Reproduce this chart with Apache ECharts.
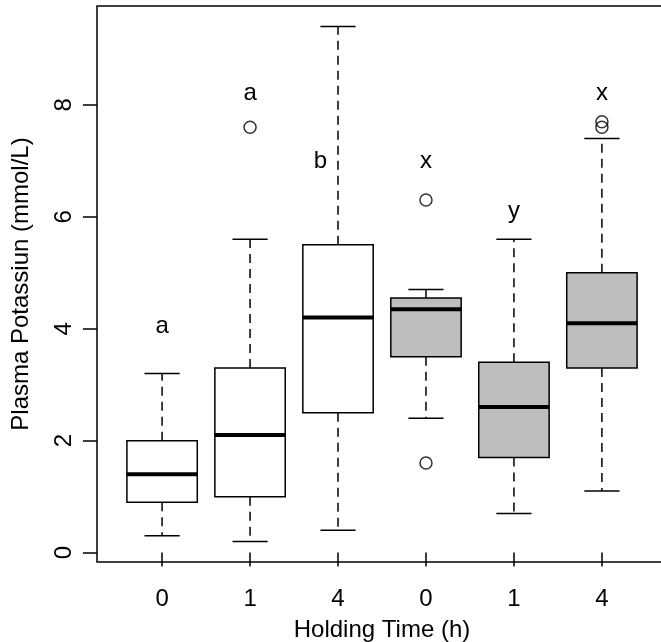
<!DOCTYPE html>
<html>
<head>
<meta charset="utf-8">
<title>Plasma potassium by holding time</title>
<script src="https://cdn.jsdelivr.net/npm/echarts@6/dist/echarts.min.js"></script>
<style>
  html, body { margin: 0; padding: 0; background: #fff; }
  #chart { width: 661px; height: 642px; }
</style>
</head>
<body>
<div id="chart"></div>
<script>
// holding time labels, one per box (two treatment groups of three)
const categories = ['0', '1', '4', '0', '1', '4']
const groups = ['A', 'A', 'A', 'B', 'B', 'B']
const positions = [1, 2, 3, 4, 5, 6]

// box statistics (mmol/L)
const whiskerLow = [0.3, 0.2, 0.4, 2.4, 0.7, 1.1]
const lowerQuartile = [0.9, 1.0, 2.5, 3.5, 1.7, 3.3]
const medians = [1.4, 2.1, 4.2, 4.35, 2.6, 4.1]
const upperQuartile = [2.0, 3.3, 5.5, 4.55, 3.4, 5.0]
const whiskerHigh = [3.2, 5.6, 9.4, 4.7, 5.6, 7.4]

// outliers
const outlierX = [2, 4, 4, 6, 6]
const outlierY = [7.6, 6.3, 1.6, 7.7, 7.6]

// significance letters
const letters = ['a', 'a', 'b', 'x', 'y', 'x']
const letterX = [1, 2, 2.8, 4, 5, 6]
const letterY = [4.05, 8.2, 7.0, 7.0, 6.1, 8.2]

const yTicks = [0, 2, 4, 6, 8]

const font = "'Liberation Sans', Arial, Helvetica, sans-serif"
const fills = { A: '#ffffff', B: '#bebebe' }

const boxData = positions.map((x, i) => [
  x, whiskerLow[i], lowerQuartile[i], medians[i], upperQuartile[i], whiskerHigh[i]
])

function renderBox(params, api) {
  const x = api.value(0)
  const lo = api.coord([x, api.value(1)])
  const q1 = api.coord([x, api.value(2)])
  const md = api.coord([x, api.value(3)])
  const q3 = api.coord([x, api.value(4)])
  const hi = api.coord([x, api.value(5)])
  const bw = api.size([0.8, 0])[0]
  const cx = lo[0]
  const cap = bw / 4
  const solid = { stroke: '#000', lineWidth: 1.5 }
  const dashed = { stroke: '#000', lineWidth: 1.5, lineDash: [9, 6] }
  return {
    type: 'group',
    children: [
      { type: 'line', shape: { x1: cx, y1: q3[1], x2: cx, y2: hi[1] }, style: dashed },
      { type: 'line', shape: { x1: cx, y1: q1[1], x2: cx, y2: lo[1] }, style: dashed },
      { type: 'line', shape: { x1: cx - cap, y1: hi[1], x2: cx + cap, y2: hi[1] }, style: solid },
      { type: 'line', shape: { x1: cx - cap, y1: lo[1], x2: cx + cap, y2: lo[1] }, style: solid },
      {
        type: 'rect',
        shape: { x: cx - bw / 2, y: q3[1], width: bw, height: q1[1] - q3[1] },
        style: { fill: fills[groups[params.dataIndex]], stroke: '#000', lineWidth: 1.5 }
      },
      { type: 'line', shape: { x1: cx - bw / 2, y1: md[1], x2: cx + bw / 2, y2: md[1] }, style: { stroke: '#000', lineWidth: 4 } }
    ]
  }
}

function renderLetter(params, api) {
  const p = api.coord([api.value(0), api.value(1)])
  return {
    type: 'text',
    x: p[0],
    y: p[1],
    style: {
      text: letters[params.dataIndex],
      font: '24px ' + font,
      fill: '#000',
      textAlign: 'center',
      textVerticalAlign: 'middle'
    }
  }
}

const chart = echarts.init(document.getElementById('chart'), null, { renderer: 'canvas' })

chart.setOption({
  backgroundColor: '#fff',
  animation: false,
  grid: {
    left: 97, top: 6, right: -6, bottom: 80,
    containLabel: false,
    outerBoundsMode: 'none',
    show: true, borderColor: '#000', borderWidth: 1.5, backgroundColor: 'transparent'
  },
  xAxis: {
    type: 'value',
    min: 0.26,
    max: 6.74,
    splitLine: { show: false },
    axisLine: { show: false },
    axisTick: { show: true, customValues: positions, length: 14, lineStyle: { color: '#000', width: 1.5 } },
    axisLabel: {
      customValues: positions,
      formatter: v => categories[Math.round(v) - 1],
      margin: 25,
      fontSize: 24,
      color: '#000',
      fontFamily: font
    },
    name: 'Holding Time (h)',
    nameLocation: 'middle',
    nameGap: 56,
    nameTextStyle: { fontSize: 24, color: '#000', fontFamily: font }
  },
  yAxis: {
    type: 'value',
    min: -0.168,
    max: 9.768,
    splitLine: { show: false },
    axisLine: { show: false },
    axisTick: { show: true, customValues: yTicks, length: 14, lineStyle: { color: '#000', width: 1.5 } },
    axisLabel: {
      customValues: yTicks,
      rotate: 90,
      margin: 21,
      fontSize: 24,
      color: '#000',
      fontFamily: font
    },
    name: 'Plasma Potassiun (mmol/L)',
    nameLocation: 'middle',
    nameRotate: 90,
    nameGap: 64,
    nameTextStyle: { fontSize: 24, color: '#000', fontFamily: font }
  },
  series: [
    {
      type: 'custom',
      name: 'boxes',
      renderItem: renderBox,
      data: boxData,
      encode: { x: 0, y: [1, 2, 3, 4, 5] },
      clip: false
    },
    {
      type: 'scatter',
      name: 'outliers',
      data: outlierX.map((x, i) => [x, outlierY[i]]),
      symbol: 'circle',
      symbolSize: 12,
      itemStyle: { color: 'transparent', borderColor: '#000', borderWidth: 1.5 }
    },
    {
      type: 'custom',
      name: 'letters',
      renderItem: renderLetter,
      data: letterX.map((x, i) => [x, letterY[i]]),
      encode: { x: 0, y: 1 }
    }
  ]
})
</script>
</body>
</html>
